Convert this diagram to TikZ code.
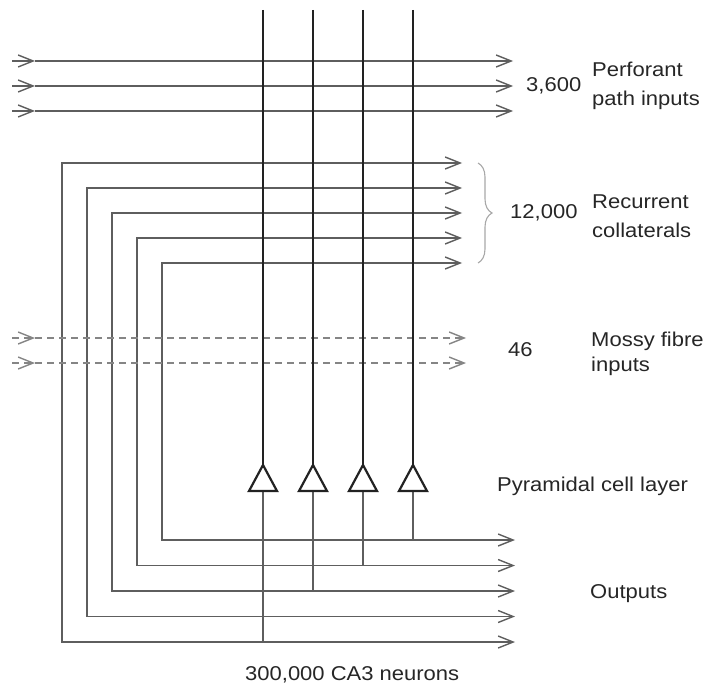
\documentclass[tikz,border=0pt]{standalone}
\usepackage{fontspec}
\setmainfont[FakeStretch=1.1]{Liberation Sans}
\usetikzlibrary{arrows.meta,decorations.pathreplacing}
\definecolor{txt}{HTML}{262626}
\definecolor{fibc}{HTML}{5E5E5E}
\definecolor{dashc}{HTML}{858585}
\definecolor{cellc}{HTML}{222222}
\definecolor{bracec}{HTML}{A8A8A8}
\begin{document}
\begin{tikzpicture}[x=1pt,y=-1pt,
  lbl/.style={inner sep=0pt, text=txt, font=\fontsize{20}{24}\selectfont},
  barb/.tip={Straight Barb[length=15pt,width=12pt,line width=1.4pt]},
  fib/.style={draw=fibc, line width=1.5pt, -barb},
  loop/.style={draw=fibc, line width=1.5pt, barb-barb},
  mossy/.style={draw=dashc, line width=1.5pt, dash pattern=on 7pt off 5pt, -barb},
  dend/.style={draw=cellc, line width=2.2pt},
  axon/.style={draw=fibc, line width=1.4pt},
  soma/.style={draw=cellc, line width=2.2pt, line join=miter, fill=white},
  brc/.style={draw=bracec, line width=1.1pt, decorate, decoration={brace, amplitude=14pt}}
]
\useasboundingbox (0,0) rectangle (704,690);

% perforant path inputs
\foreach \i/\y in {1/61,2/86,3/111}{
  \coordinate (pL\i) at (12,\y);
  \coordinate (pM\i) at (35,\y);
  \coordinate (pR\i) at (513,\y);
  \draw[fib] (pL\i) -- (pM\i);
  \draw[fib] (pM\i) -- (pR\i);
}

% recurrent collaterals / outputs loops
\foreach \i in {0,...,4}{
  \pgfmathsetmacro{\xx}{62+25*\i}
  \pgfmathsetmacro{\yt}{163+25*\i}
  \pgfmathsetmacro{\yb}{642-25.5*\i}
  \coordinate (rT\i) at (462,\yt);
  \coordinate (rC\i) at (\xx,\yb);
  \coordinate (oT\i) at (515,\yb);
  \draw[loop] (rT\i) -| (rC\i) -- (oT\i);
}

% mossy fibre inputs
\foreach \i/\y in {1/338,2/363}{
  \coordinate (mL\i) at (12,\y);
  \coordinate (mM\i) at (35,\y);
  \coordinate (mR\i) at (466,\y);
  \draw[mossy] (mL\i) -- (mM\i);
  \draw[mossy] (mM\i) -- (mR\i);
}

% pyramidal cells
\foreach \j/\x/\e in {1/263/642,2/313/591,3/363/566,4/413/540}{
  \coordinate (dT\j) at (\x,10);
  \coordinate (ap\j) at (\x,465);
  \coordinate (bs\j) at (\x,491);
  \coordinate (ax\j) at (\x,\e);
  \draw[axon] (bs\j) -- (ax\j);
  \draw[dend] (dT\j) -- (ap\j);
  \draw[soma] (ap\j) -- ++(14,26) -- ++(-28,0) -- cycle;
}

% brace
\coordinate (bT) at (478,163);
\coordinate (bB) at (478,263);
\draw[brc] (bT) -- (bB);

% labels
\node[lbl, anchor=west] (n3600) at (526,86) {3,600};
\node[lbl, anchor=base west] (perf1) at (592,77) {Perforant};
\node[lbl, anchor=base west] (perf2) at (592,106) {path inputs};
\node[lbl, anchor=west] (n12000) at (510,213) {12,000};
\node[lbl, anchor=base west] (rec1) at (592,208) {Recurrent};
\node[lbl, anchor=base west] (rec2) at (592,237) {collaterals};
\node[lbl, anchor=west] (n46) at (508,350) {46};
\node[lbl, anchor=base west] (mos1) at (591,346) {Mossy fibre};
\node[lbl, anchor=base west] (mos2) at (591,371) {inputs};
\node[lbl, anchor=base west] (pyr) at (497,491) {Pyramidal cell layer};
\node[lbl, anchor=base west] (outp) at (590,598) {Outputs};
\node[lbl, anchor=base west] (ca3) at (245,680) {300,000 CA3 neurons};
\end{tikzpicture}
\end{document}
